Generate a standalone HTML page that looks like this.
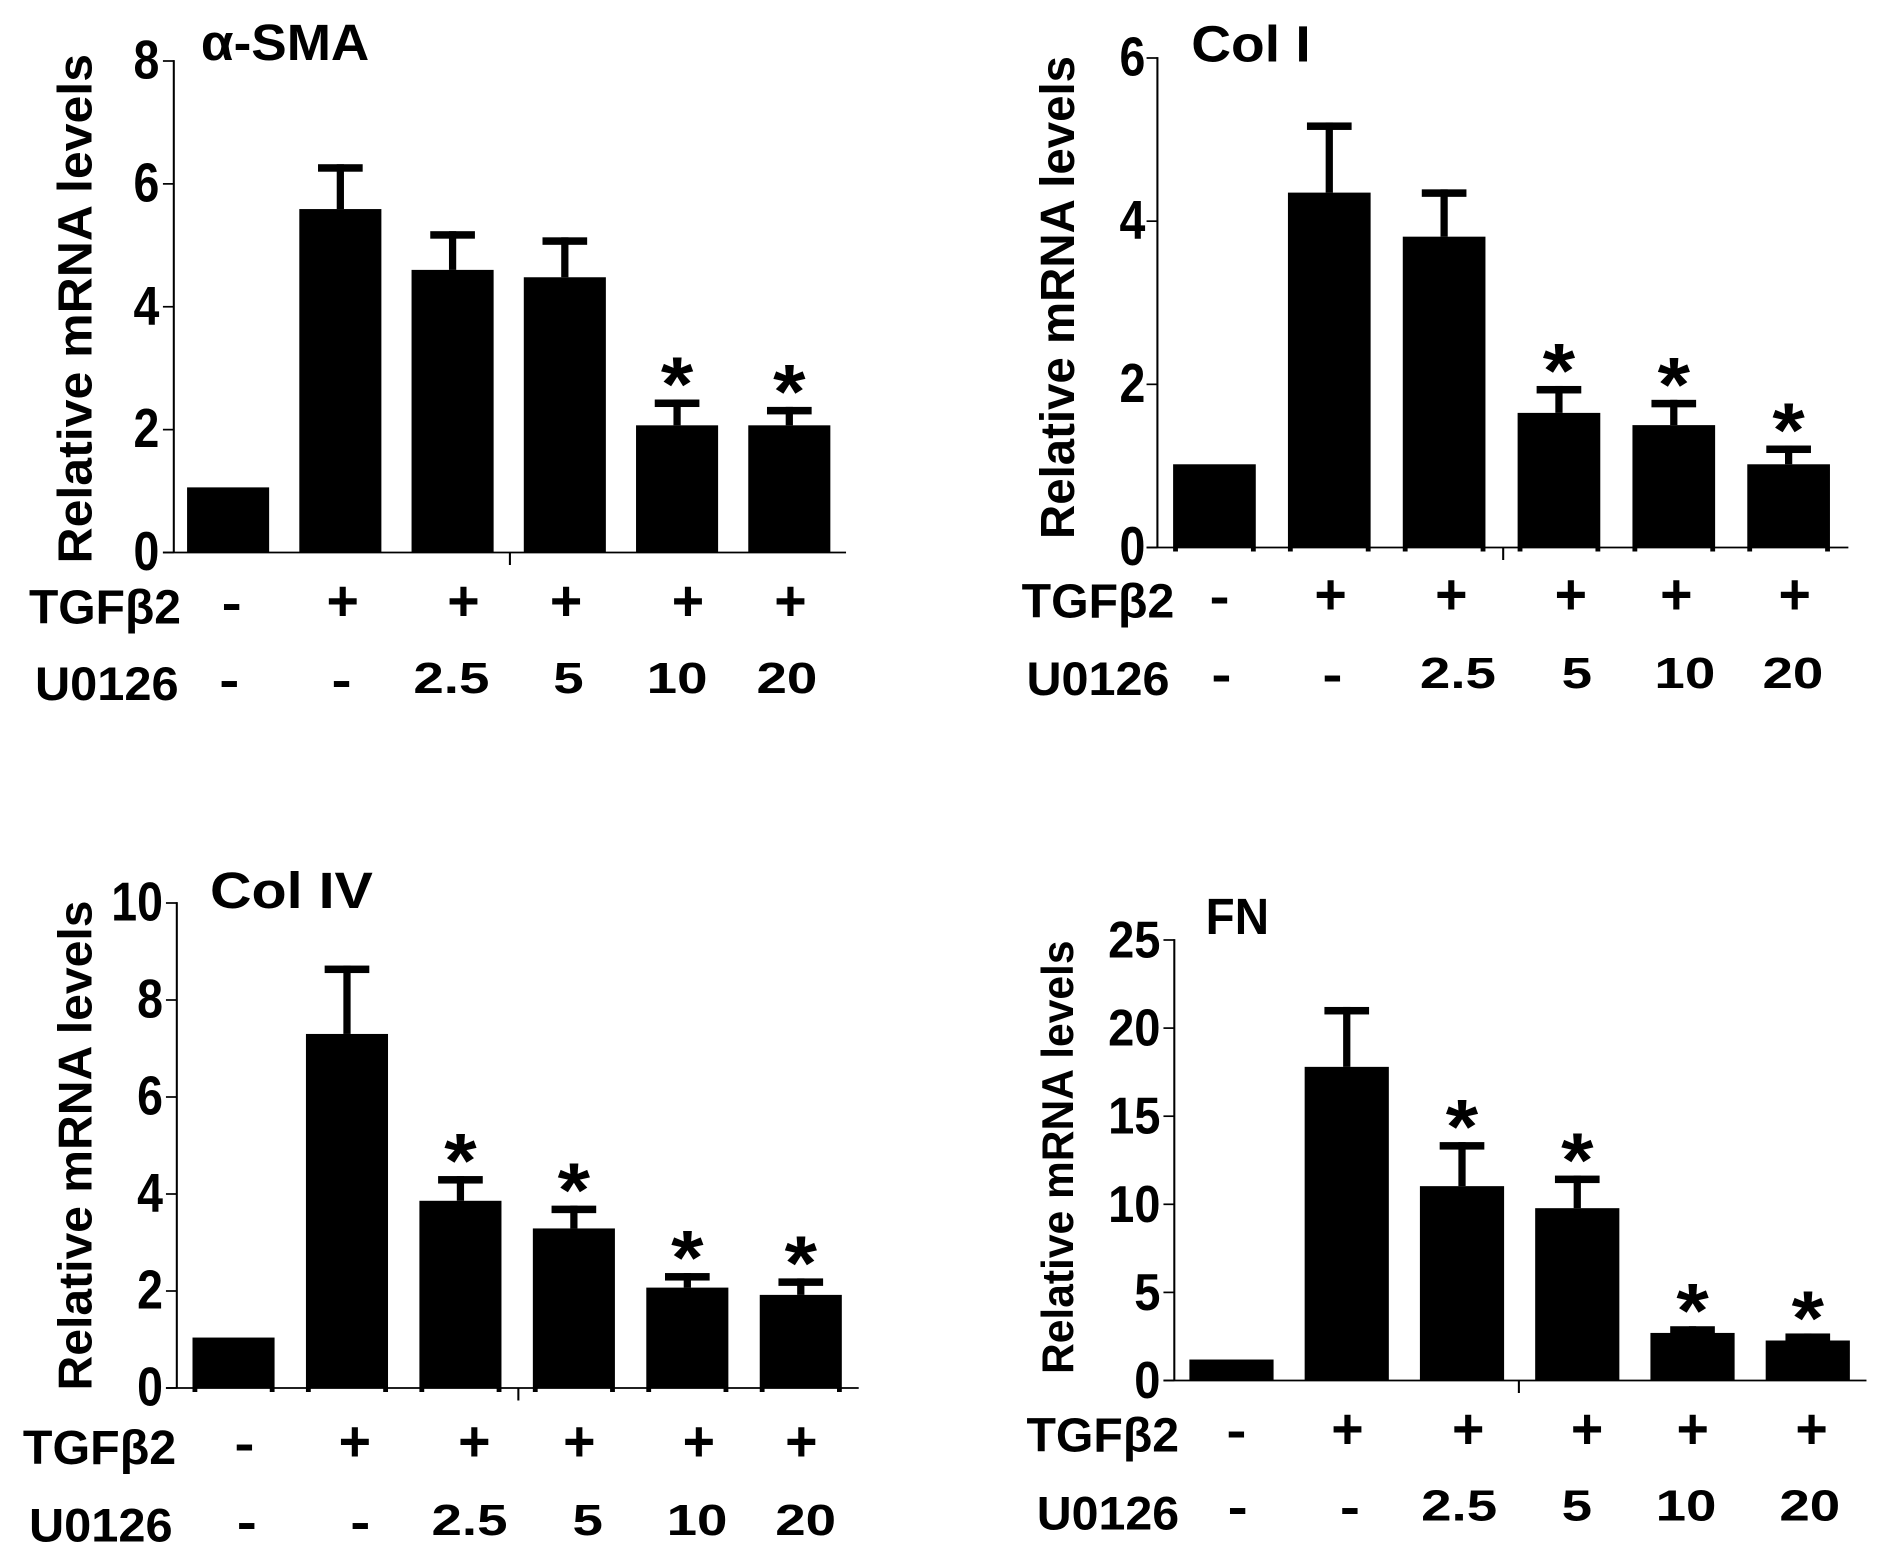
<!DOCTYPE html>
<html lang="en">
<head>
<meta charset="utf-8">
<title>Relative mRNA levels under TGFβ2 and U0126</title>
<style>
html,body{margin:0;padding:0;background:#fff;width:1890px;height:1566px;overflow:hidden}
svg{display:block}
text{font-family:"Liberation Sans",sans-serif;font-weight:700;fill:#000}
</style>
</head>
<body>
<svg id="figure" xmlns="http://www.w3.org/2000/svg" width="1890" height="1566" viewBox="0 0 1890 1566">
  <rect x="0" y="0" width="1890" height="1566" fill="#fff"/>

  <g id="panel-sma" transform="translate(0,0) scale(.60345,.5)">
    <text x="333" y="120" font-size="102" textLength="279" lengthAdjust="spacingAndGlyphs">α-SMA</text>
    <text transform="translate(152,1127) rotate(-90)" font-size="80" textLength="1019" lengthAdjust="spacingAndGlyphs">Relative mRNA levels</text>
    <text x="48" y="1247" font-size="97" textLength="252" lengthAdjust="spacingAndGlyphs">TGFβ2</text>
    <text x="58" y="1400" font-size="94" textLength="238" lengthAdjust="spacingAndGlyphs">U0126</text>
  </g>

  <g id="panel-col1" transform="translate(945,0) scale(.60345,.5)">
    <text x="408" y="123" font-size="102" textLength="198" lengthAdjust="spacingAndGlyphs">Col I</text>
    <text transform="translate(214,1078) rotate(-90)" font-size="80" textLength="966" lengthAdjust="spacingAndGlyphs">Relative mRNA levels</text>
    <text x="127" y="1235" font-size="97" textLength="253" lengthAdjust="spacingAndGlyphs">TGFβ2</text>
    <text x="135" y="1390" font-size="94" textLength="237" lengthAdjust="spacingAndGlyphs">U0126</text>
  </g>

  <g id="panel-col4" transform="translate(0,783) scale(.60345,.5)">
    <text x="348" y="250" font-size="102" textLength="270" lengthAdjust="spacingAndGlyphs">Col IV</text>
    <text transform="translate(152,1215) rotate(-90)" font-size="78" textLength="980" lengthAdjust="spacingAndGlyphs">Relative mRNA levels</text>
    <text x="38" y="1362" font-size="97" textLength="254" lengthAdjust="spacingAndGlyphs">TGFβ2</text>
    <text x="48" y="1517" font-size="94" textLength="238" lengthAdjust="spacingAndGlyphs">U0126</text>
  </g>

  <g id="panel-fn" transform="translate(945,783) scale(.60345,.5)">
    <text x="432" y="302" font-size="102" textLength="105" lengthAdjust="spacingAndGlyphs">FN</text>
    <text transform="translate(212,1182) rotate(-90)" font-size="74" textLength="867" lengthAdjust="spacingAndGlyphs">Relative mRNA levels</text>
    <text x="135" y="1337" font-size="97" textLength="253" lengthAdjust="spacingAndGlyphs">TGFβ2</text>
    <text x="152" y="1493" font-size="94" textLength="236" lengthAdjust="spacingAndGlyphs">U0126</text>
  </g>
</svg>

<script>
// ---- Data ----
const tgfLabels = ['-', '+', '+', '+', '+', '+'];
const u0126Labels = ['-', '-', '2.5', '5', '10', '20'];

const smaValues = [1.06, 5.59, 4.60, 4.48, 2.07, 2.07];
const smaErrors = [0, 0.73, 0.63, 0.65, 0.42, 0.30];
const smaSignificant = [false, false, false, false, true, true];
const smaTicks = [0, 2, 4, 6, 8];

const col1Values = [1.02, 4.35, 3.81, 1.65, 1.50, 1.02];
const col1Errors = [0, 0.86, 0.58, 0.33, 0.31, 0.23];
const col1Significant = [false, false, false, true, true, true];
const col1Ticks = [0, 2, 4, 6];

const col4Values = [1.04, 7.30, 3.86, 3.29, 2.07, 1.92];
const col4Errors = [0, 1.41, 0.51, 0.47, 0.30, 0.34];
const col4Significant = [false, false, true, true, true, true];
const col4Ticks = [0, 2, 4, 6, 8, 10];

const fnValues = [1.19, 17.80, 11.03, 9.78, 2.70, 2.27];
const fnErrors = [0, 3.40, 2.50, 1.85, 0.38, 0.40];
const fnSignificant = [false, false, true, true, true, true];
const fnTicks = [0, 5, 10, 15, 20, 25];

// ---- Layout of each panel (design units, not data) ----
const panelLayouts = [
  {id:'panel-sma', values:smaValues, errors:smaErrors, sig:smaSignificant, ticks:smaTicks, yMax:8,
   axisX:288, yBase:1105, yTop:122, xEnd:1402, midTick:845, firstBar:310, step:186, barW:136,
   tickRight:264, tickFont:110, tickSx:.7, edgeStubs:false,
   tgfX:[384,568,768,938,1140,1310], uX:[380,566,748,942,1122,1304],
   plusY:1205, dashTgfY:1213, dashUY:1367, digitBase:1386},
  {id:'panel-col1', values:col1Values, errors:col1Errors, sig:col1Significant, ticks:col1Ticks, yMax:6,
   axisX:352, yBase:1095, yTop:116, xEnd:1497, midTick:925, firstBar:378, step:190.3, barW:137,
   tickRight:332, tickFont:110, tickSx:.7, edgeStubs:true,
   tgfX:[455,639,839,1037,1212,1408], uX:[458,642,850,1047,1226,1405],
   plusY:1192, dashTgfY:1200, dashUY:1356, digitBase:1376},
  {id:'panel-col4', values:col4Values, errors:col4Errors, sig:col4Significant, ticks:col4Ticks, yMax:10,
   axisX:293, yBase:1210, yTop:240, xEnd:1423, midTick:859, firstBar:319, step:188, barW:136,
   tickRight:270, tickFont:110, tickSx:.7, edgeStubs:true,
   tgfX:[405,588,786,960,1158,1328], uX:[409,597,778,974,1155,1335],
   plusY:1320, dashTgfY:1328, dashUY:1485, digitBase:1504},
  {id:'panel-fn', values:fnValues, errors:fnErrors, sig:fnSignificant, ticks:fnTicks, yMax:25,
   axisX:380, yBase:1195, yTop:314, xEnd:1527, midTick:951, firstBar:405, step:191, barW:139.5,
   tickRight:357, tickFont:104, tickSx:.75, edgeStubs:false,
   tgfX:[483,667,867,1064,1239,1436], uX:[485,671,852,1047,1228,1433],
   plusY:1295, dashTgfY:1302, dashUY:1455, digitBase:1475}
];

const SVG_NS = 'http://www.w3.org/2000/svg';

function makeEl(tag, attrs, parent) {
  const el = document.createElementNS(SVG_NS, tag);
  for (const k in attrs) el.setAttribute(k, attrs[k]);
  parent.appendChild(el);
  return el;
}

function drawPanel(p) {
  const root = document.getElementById(p.id);
  const yScale = v => p.yBase - (v / p.yMax) * (p.yBase - p.yTop);
  const xBand = i => p.firstBar + i * p.step;
  const xCenter = i => xBand(i) + p.barW / 2;
  const capW = 74, capH = 15, stemW = 12, axisW = 3.4;

  p.values.forEach((v, i) => {
    const bar = makeEl('rect', {x:xBand(i), y:yScale(v), width:p.barW, height:p.yBase - yScale(v), fill:'#000'}, root);
    
    

    if (p.edgeStubs) {
      [xBand(i) + 4, xBand(i) + p.barW - 4].forEach(sx => {
        const stub = makeEl('line', {x1:sx, x2:sx, y1:p.yBase, y2:p.yBase + 8, stroke:'#000', 'stroke-width':8}, root);
        
        
      });
    }

    const e = p.errors[i];
    if (e > 0) {
      const top = yScale(v + e);
      const stem = makeEl('rect', {x:xCenter(i) - stemW / 2, y:top, width:stemW, height:yScale(v) - top, fill:'#000'}, root);
      
      
      const cap = makeEl('rect', {x:xCenter(i) - capW / 2, y:top, width:capW, height:capH, fill:'#000'}, root);
      
      
    }

    if (p.sig[i]) {
      const star = makeEl('text', {transform:'translate(' + xCenter(i) + ',' + (yScale(v + e) + 22) + ') scale(.92,1.03)', 'font-size':150, 'text-anchor':'middle'}, root);
      
      
      star.textContent = '*';
    }
  });

  const yAxis = makeEl('line', {x1:p.axisX, x2:p.axisX, y1:p.yTop - axisW / 2, y2:p.yBase, stroke:'#000', 'stroke-width':axisW}, root);
  
  

  const xAxis = makeEl('line', {x1:p.axisX - 18, x2:p.xEnd, y1:p.yBase, y2:p.yBase, stroke:'#000', 'stroke-width':axisW}, root);
  
  

  const midTick = makeEl('line', {x1:p.midTick, x2:p.midTick, y1:p.yBase, y2:p.yBase + 25, stroke:'#000', 'stroke-width':axisW}, root);
  
  

  p.ticks.forEach(t => {
    const y = yScale(t);
    const tick = makeEl('line', {x1:p.axisX - 18, x2:p.axisX, y1:y, y2:y, stroke:'#000', 'stroke-width':axisW}, root);
    
    
    const label = makeEl('text', {transform:'translate(' + p.tickRight + ',' + (y + 35) + ') scale(' + p.tickSx + ',1)', 'font-size':p.tickFont, 'text-anchor':'end'}, root);
    
    
    label.textContent = String(t);
  });

  tgfLabels.forEach((s, i) => {
    const isPlus = s === '+';
    const attrs = isPlus
      ? {transform:'translate(' + p.tgfX[i] + ',' + (p.plusY + 36) + ') scale(1,1.25)', 'font-size':92, 'text-anchor':'middle'}
      : {x:p.tgfX[i], y:p.dashTgfY + 27, 'font-size':100, 'text-anchor':'middle'};
    const t = makeEl('text', attrs, root);
    
    
    t.textContent = s;
  });

  u0126Labels.forEach((s, i) => {
    const isDash = s === '-';
    const attrs = isDash
      ? {x:p.uX[i], y:p.dashUY + 27, 'font-size':100, 'text-anchor':'middle'}
      : {transform:'translate(' + p.uX[i] + ',' + p.digitBase + ') scale(1.03,1)', 'font-size':88, 'text-anchor':'middle'};
    const t = makeEl('text', attrs, root);
    
    
    t.textContent = s;
  });
}

panelLayouts.forEach(drawPanel);
</script>
</body>
</html>
